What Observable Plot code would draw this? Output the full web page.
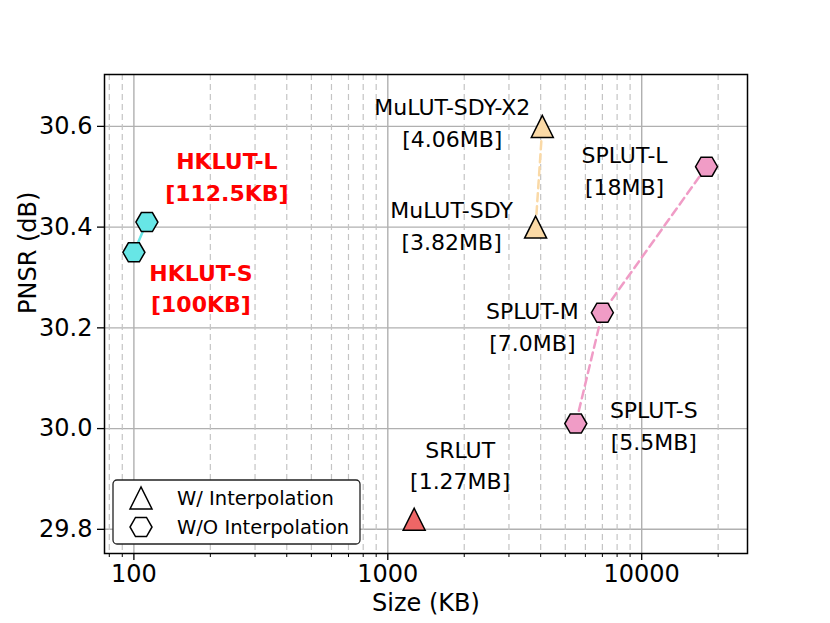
<!DOCTYPE html>
<html>
<head>
<meta charset="utf-8">
<script src="https://cdn.jsdelivr.net/npm/d3@7"></script>
<script src="https://cdn.jsdelivr.net/npm/@observablehq/plot@0.6"></script>
<style>
  html, body { margin: 0; padding: 0; background: #fff; }
  #chart { width: 830px; height: 623px; }
</style>
</head>
<body>
<div id="chart"></div>
<script>
// ---- data ----
const names = ["HKLUT-S", "HKLUT-L", "SRLUT", "MuLUT-SDY", "MuLUT-SDY-X2", "SPLUT-S", "SPLUT-M", "SPLUT-L"];
const sizeTexts = ["[100KB]", "[112.5KB]", "[1.27MB]", "[3.82MB]", "[4.06MB]", "[5.5MB]", "[7.0MB]", "[18MB]"];
const sizesKB = [100, 112.5, 1270, 3820, 4060, 5500, 7000, 18000];
const psnr = [30.35, 30.41, 29.82, 30.40, 30.60, 30.01, 30.23, 30.52];
const families = ["HKLUT", "HKLUT", "SRLUT", "MuLUT", "MuLUT", "SPLUT", "SPLUT", "SPLUT"];
const interpolated = [false, false, true, true, true, false, false, false];
const xMajorTicks = [100, 1000, 10000];
const xMinorTicks = [80, 90, 200, 300, 400, 500, 600, 700, 800, 900, 2000, 3000, 4000, 5000, 6000, 7000, 8000, 9000, 20000];
const yTicks = [29.8, 30.0, 30.2, 30.4, 30.6];
const legendLabels = ["W/ Interpolation", "W/O Interpolation"];

// ---- styles ----
const familyColors = {HKLUT: "#67E6E6", SRLUT: "#EE6666", MuLUT: "#FAD9A6", SPLUT: "#F09CC6"};
const labelOffsets = {
  "HKLUT-S": [67, 34], "HKLUT-L": [80, -47], "SRLUT": [46, -56],
  "MuLUT-SDY": [-84, -3], "MuLUT-SDY-X2": [-90, -6],
  "SPLUT-S": [78, 0], "SPLUT-M": [-70, 12], "SPLUT-L": [-82, 2]
};
const FONT = "DejaVu Sans, Liberation Sans, sans-serif";

const table = names.map((n, i) => ({
  name: n, label: n + "\n" + sizeTexts[i], size: sizesKB[i], psnr: psnr[i],
  family: families[i], interp: interpolated[i]
}));

// custom symbols (matplotlib-like)
const hexSym = { draw(ctx, size) {
  const r = Math.sqrt(size / Math.PI);
  for (let k = 0; k < 6; k++) {
    const a = k * Math.PI / 3;
    const x = r * Math.cos(a), y = r * Math.sin(a);
    if (k === 0) ctx.moveTo(x, y); else ctx.lineTo(x, y);
  }
  ctx.closePath();
}};
const triSym = { draw(ctx, size) {
  const r = Math.sqrt(size / Math.PI);
  ctx.moveTo(0, -r); ctx.lineTo(-r, r); ctx.lineTo(r, r); ctx.closePath();
}};

const W = 830, H = 623, mL = 104, mR = 83, mT = 74, mB = 70;
const R = 11;

const marks = [
  Plot.gridY(yTicks, {stroke: "#b0b0b0", strokeOpacity: 1, strokeWidth: 1.4}),
  Plot.gridX(xMinorTicks, {stroke: "#c4c4c4", strokeOpacity: 1, strokeWidth: 1.2, strokeDasharray: "6,4"}),
  Plot.gridX(xMajorTicks, {stroke: "#b0b0b0", strokeOpacity: 1, strokeWidth: 1.4}),
  Plot.axisY(yTicks, {tickSize: 7, tickPadding: 5, tickFormat: d => d.toFixed(1), fontSize: 24, label: null, strokeWidth: 1.3}),
  Plot.axisX(xMajorTicks, {tickSize: 7, tickPadding: 4, tickFormat: d => String(d), fontSize: 24, label: null, strokeWidth: 1.3}),
  Plot.axisX(xMinorTicks, {tickSize: 4, tickFormat: () => "", label: null, strokeWidth: 1}),
  Plot.line(table.filter(d => d.family === "HKLUT"), {x: "size", y: "psnr", stroke: familyColors.HKLUT, strokeWidth: 2.5}),
  Plot.line(table.filter(d => d.family === "MuLUT"), {x: "size", y: "psnr", stroke: familyColors.MuLUT, strokeWidth: 2.5, strokeDasharray: "8,5"}),
  Plot.line(table.filter(d => d.family === "SPLUT"), {x: "size", y: "psnr", stroke: familyColors.SPLUT, strokeWidth: 2.5, strokeDasharray: "8,5"}),
  Plot.dot(table.filter(d => !d.interp), {x: "size", y: "psnr", symbol: hexSym, r: R, fill: d => familyColors[d.family], stroke: "black", strokeWidth: 1.5}),
  Plot.dot(table.filter(d => d.interp), {x: "size", y: "psnr", symbol: triSym, r: R, fill: d => familyColors[d.family], stroke: "black", strokeWidth: 1.5}),
  Plot.frame({stroke: "black", strokeWidth: 1.5}),
  Plot.text(["Size (KB)"], {frameAnchor: "bottom", dy: 50, text: d => d, fontSize: 24, lineAnchor: "middle", fill: "black"}),
  Plot.text(["PNSR (dB)"], {frameAnchor: "left", dx: -76, text: d => d, rotate: -90, fontSize: 24, lineAnchor: "middle", fill: "black"})
];

for (const d of table) {
  const [dx, dy] = labelOffsets[d.name];
  const hk = d.family === "HKLUT";
  marks.push(Plot.text([d], {
    x: "size", y: "psnr", text: "label", dx, dy,
    fontSize: 22, lineHeight: 1.45, lineAnchor: "middle", textAnchor: "middle",
    fill: hk ? "#ff0000" : "black", fontWeight: hk ? "bold" : "normal"
  }));
}

const chart = Plot.plot({
  width: W, height: H,
  marginLeft: mL, marginRight: mR, marginTop: mT, marginBottom: mB,
  style: {fontFamily: FONT, fontSize: "20px", color: "black", background: "white"},
  x: {type: "log", domain: [76.6, 26100], axis: null},
  y: {domain: [29.752, 30.703], axis: null},
  color: {type: "identity"},
  marks
});

// legend (inside the frame, bottom-left)
const svg = d3.select(chart);
const lw = 247, lh = 64;
const lx = mL + 9, ly = H - mB - 9 - lh;
const lg = svg.append("g").attr("font-family", FONT).attr("text-anchor", "start");
lg.append("rect").attr("x", lx).attr("y", ly).attr("width", lw).attr("height", lh)
  .attr("rx", 4).attr("fill", "white").attr("stroke", "#222").attr("stroke-width", 1.3);
const syms = [triSym, hexSym];
legendLabels.forEach((t, i) => {
  const cy = ly + 18 + i * 29;
  lg.append("path").attr("d", d3.symbol(syms[i], Math.PI * R * R)())
    .attr("transform", `translate(${lx + 28},${cy})`)
    .attr("fill", "white").attr("stroke", "black").attr("stroke-width", 1.5);
  lg.append("text").attr("x", lx + 64).attr("y", cy).attr("dy", "0.35em")
    .attr("text-anchor", "start")
    .attr("font-size", 19.5).attr("fill", "black").text(t);
});

document.getElementById("chart").appendChild(chart);
</script>
</body>
</html>
